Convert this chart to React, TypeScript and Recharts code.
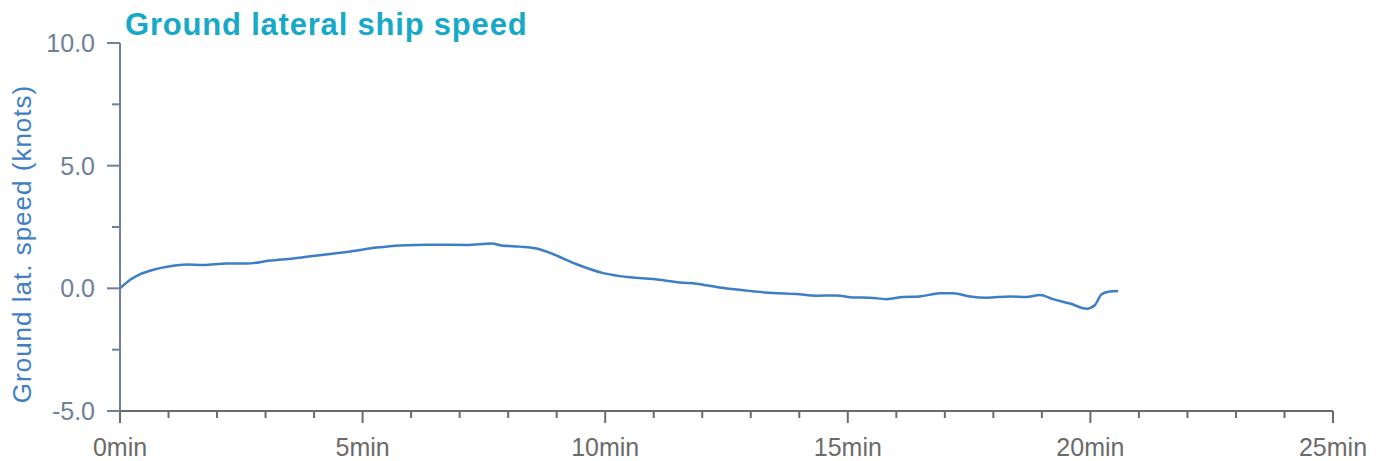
import { LineChart, Line, XAxis, YAxis } from "recharts";

// elapsed time, minutes
const minutes = [
  0, 0.21, 0.41, 0.69, 1.03, 1.37, 1.72, 2.2, 2.61, 3.09, 3.57, 4.12, 4.81,
  5.29, 5.77, 6.39, 7.14, 7.66, 7.86, 8.24, 8.59, 8.93, 9.41, 9.96, 10.51,
  10.99, 11.54, 11.88, 12.36, 12.84, 13.46, 13.94, 14.36, 14.77, 15.11, 15.45,
  15.8, 16.14, 16.48, 16.9, 17.17, 17.52, 17.86, 18.34, 18.68, 18.96, 19.23,
  19.58, 19.92, 20.09, 20.23, 20.4, 20.57,
];

// ground lateral speed, knots
const speeds = [
  0, 0.35, 0.57, 0.76, 0.9, 0.97, 0.95, 1.01, 1.01, 1.13, 1.22, 1.35, 1.52,
  1.66, 1.75, 1.78, 1.77, 1.83, 1.75, 1.7, 1.62, 1.39, 0.98, 0.62, 0.45, 0.38,
  0.24, 0.19, 0.03, -0.08, -0.19, -0.23, -0.3, -0.29, -0.37, -0.38, -0.44,
  -0.35, -0.33, -0.2, -0.2, -0.33, -0.38, -0.33, -0.35, -0.27, -0.44, -0.62,
  -0.83, -0.69, -0.24, -0.13, -0.11,
];

const xTicks = [
  0, 1, 2, 3, 4, 5, 6, 7, 8, 9, 10, 11, 12, 13, 14, 15, 16, 17, 18, 19, 20,
  21, 22, 23, 24, 25,
];
const yTicks = [-5, -2.5, 0, 2.5, 5, 7.5, 10];

const data = minutes.map((m, i) => ({ t: m, v: speeds[i] }));

const FONT = "'Liberation Sans', Arial, sans-serif";

const XTick = ({ x, y, payload }: any) => {
  const major = payload.value % 5 === 0;
  return (
    <g>
      <line x1={x} x2={x} y1={y} y2={y + (major ? 12 : 7)} stroke="#6b6b6b" strokeWidth={2} />
      {major && (
        <text x={x} y={y + 45} textAnchor="middle" fill="#6b6b6b" fontSize={25} fontFamily={FONT}>
          {payload.value + "min"}
        </text>
      )}
    </g>
  );
};

const YTick = ({ x, y, payload }: any) => {
  const major = payload.value % 5 === 0;
  return (
    <g>
      <line x1={x - (major ? 13 : 8)} x2={x} y1={y} y2={y} stroke="#6e819b" strokeWidth={2} />
      {major && (
        <text x={x - 25} y={y + 9} textAnchor="end" fill="#6e819b" fontSize={25} fontFamily={FONT}>
          {payload.value.toFixed(1)}
        </text>
      )}
    </g>
  );
};

const YLabel = ({ viewBox }: any) => {
  const cx = viewBox.x + 22;
  const cy = viewBox.y + viewBox.height / 2 + 17;
  return (
    <text
      x={cx}
      y={cy}
      transform={`rotate(-90 ${cx} ${cy})`}
      textAnchor="middle"
      dominantBaseline="central"
      fill="#3f80c4"
      fontSize={26}
      letterSpacing={1}
      fontFamily={FONT}
    >
      Ground lat. speed (knots)
    </text>
  );
};

export default function App() {
  return (
    <div style={{ position: "absolute", left: 0, top: 0, width: 1383, height: 461, background: "#fff" }}>
      <div
        style={{
          position: "absolute",
          left: 125,
          top: 9,
          fontFamily: FONT,
          fontWeight: "bold",
          fontSize: 31,
          lineHeight: "31px",
          letterSpacing: 0.8,
          color: "#17a9c7",
          whiteSpace: "nowrap",
        }}
      >
        Ground lateral ship speed
      </div>
      <LineChart width={1383} height={461} data={data} margin={{ top: 43, right: 50, bottom: 0, left: 0 }}>
        <XAxis
          dataKey="t"
          type="number"
          domain={[0, 25]}
          ticks={xTicks}
          interval={0}
          height={50}
          stroke="#6b6b6b"
          strokeWidth={2}
          tickSize={0}
          tickMargin={0}
          tick={<XTick />}
        />
        <YAxis
          type="number"
          domain={[-5, 10]}
          ticks={yTicks}
          interval={0}
          width={120}
          stroke="#6e819b"
          strokeWidth={2}
          tickSize={0}
          tickMargin={0}
          tick={<YTick />}
          label={<YLabel />}
        />
        <Line
          type="monotone"
          dataKey="v"
          stroke="#3d7fc6"
          strokeWidth={2.5}
          dot={false}
          isAnimationActive={false}
        />
      </LineChart>
    </div>
  );
}
